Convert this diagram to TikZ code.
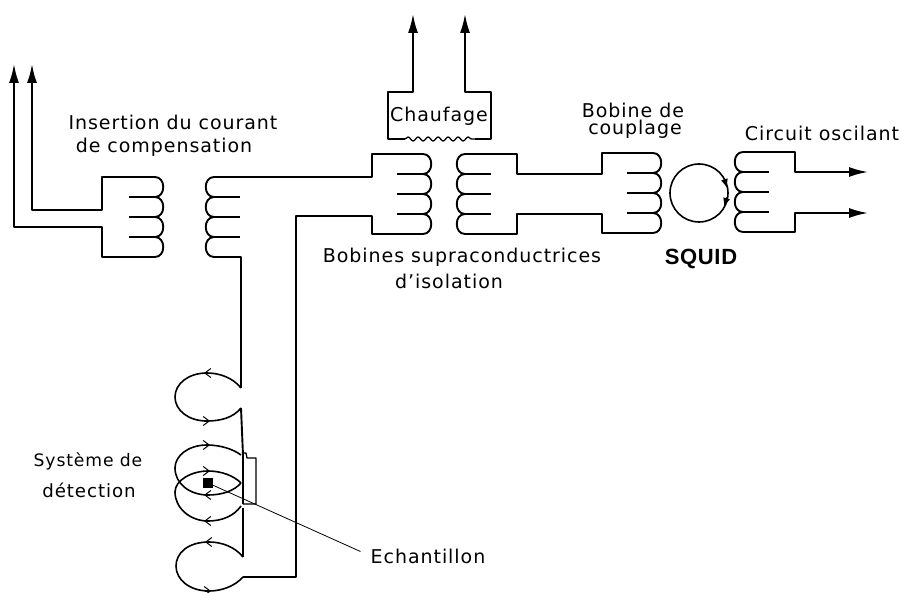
\documentclass[tikz,border=0pt]{standalone}
\usepackage{fontspec}
\setmainfont[LetterSpace=5]{DejaVu Sans}
\newfontfamily\grasfont[LetterSpace=3]{Liberation Sans}
\usetikzlibrary{positioning,calc,decorations.pathmorphing,arrows.meta}
\tikzset{
  fil/.style={line width=1.9pt,line join=round},
  boucle/.style={line width=1.6pt},
  fleche/.style={fil,-{Latex[length=19pt,width=10pt]}},
  petite/.style={line width=1pt,-{Straight Barb[length=6pt,width=9pt]}},
  etiquette/.style={font=\fontsize{19}{20}\selectfont,inner sep=0pt},
  bobine/.pic={
    \coordinate (-top) at (0,0);
    \coordinate (-bottom) at (0,80);
    \foreach \i in {0,...,3} {
      \draw[fil] (0,20*\i) .. controls (11,20*\i) and (11,20*\i+20) .. (0,20*\i+20);
    }
    \foreach \i in {1,...,3} {
      \draw[fil] (0,20*\i) -- (-26,20*\i);
    }
  }
}
\begin{document}
\begin{tikzpicture}[x=1pt,y=-1pt]
  \useasboundingbox (0,0) rectangle (907,593);
  % Coils
  \pic (c1) at (155,177) {bobine};
  \pic[xscale=-1] (c2) at (214,177) {bobine};
  \pic (c3) at (423,154) {bobine};
  \pic[xscale=-1] (c4) at (465,154) {bobine};
  \pic (c5) at (653,153) {bobine};
  \pic[xscale=-1] (c6) at (743,152) {bobine};

  % Free ends
  \coordinate (sortie1) at (14,64);
  \coordinate (sortie2) at (32,64);
  \coordinate (sortie3) at (413,14);
  \coordinate (sortie4) at (465,14);
  \coordinate (sortie5) at (868,172);
  \coordinate (sortie6) at (868,213);

  % Compensation leads
  \draw[fleche] (c1-bottom) -| (102,227) -| (sortie1);
  \draw[fleche] (c1-top) -| (102,210) -| (sortie2);

  % Isolation coils and coupling coil
  \draw[fil] (c2-top) -| (372,154) -- (c3-top);
  \draw[fil] (c3-bottom) -| (372,216) -| (296,577) -- (243,577);
  \draw[fil] (c4-top) -| (517,174) -| (602,153) -- (c5-top);
  \draw[fil] (c4-bottom) -| (517,214) -| (602,233) -- (c5-bottom);

  % Oscillating circuit
  \draw[fleche] (c6-top) -| (795,172) -- (sortie5);
  \draw[fleche] (c6-bottom) -| (795,213) -- (sortie6);

  % Heater
  \coordinate (r1) at (405,139);
  \coordinate (r2) at (475,139);
  \draw[fleche] (r1) -- (388,139) |- (413,92) -- (sortie3);
  \draw[fleche] (r2) -- (491,139) |- (465,92) -- (sortie4);
  \draw[line width=1.3pt,decorate,decoration={snake,amplitude=2pt,segment length=10pt}] (r1) -- (r2);

  % SQUID loop
  \node[circle,draw,line width=1.6pt,minimum size=58pt,inner sep=0pt] (squid) at (699,193) {};
  \draw[petite,-{Latex[length=9pt,width=7pt]}] (724,178) -- (727,188);
  \draw[petite,-{Latex[length=9pt,width=7pt]}] (727,197) -- (724,207);

  % Detection loops
  \draw[fil] (c2-bottom) -- (241,257) -- (241,388);
  \draw[boucle] (241,388) .. controls (233,378) and (220,373) .. (207,373)
    .. controls (188,373) and (175,384) .. (175,397)
    .. controls (175,410) and (188,421) .. (207,421)
    .. controls (220,421) and (233,418) .. (241,408);
  \draw[fil] (241,408) -- (243,455) -- (243,504);
  \draw[boucle] (241,455) .. controls (233,449) and (220,445) .. (207,445)
    .. controls (188,445) and (175,456) .. (175,468)
    .. controls (175,484) and (190,495) .. (208,495)
    .. controls (222,495) and (234,491) .. (241,483);
  \draw[boucle] (241,483) .. controls (234,476) and (222,471) .. (208,471)
    .. controls (192,471) and (175,480) .. (175,492)
    .. controls (175,508) and (190,521) .. (208,521)
    .. controls (222,521) and (234,516) .. (241,506);
  \draw[line width=1.3pt,line join=round] (242,453) -- (246,453) -- (247,458) -- (256,458) -- (256,504) -- (243,504);
  \draw[fil] (243,508) -- (243,557);
  \draw[boucle] (243,557) .. controls (235,547) and (222,542) .. (209,542)
    .. controls (188,542) and (176,553) .. (176,566)
    .. controls (176,580) and (190,591) .. (209,591)
    .. controls (222,591) and (235,586) .. (243,577);
  \foreach \xa/\ya/\xb in {210/373/204,204/421/210,204/445/210,204/471/210,210/495/204,210/521/204,211/542/205,205/591/211} {
    \draw[petite] (\xa,\ya) -- (\xb,\ya);
  }

  % Sample
  \node[fill=black,minimum size=10pt,inner sep=0pt] (carre) at (208,483) {};

  % Labels
  \node[etiquette] (insertion) at (173,122) {Insertion du courant};
  \node[etiquette] (compensation) at (164,147) {de compensation};
  \node[etiquette] (chaufage) at (439,116) {Chaufage};
  \node[etiquette] (isolation1) at (462,257) {Bobines supraconductrices};
  \node[etiquette] (isolation2) at (449,281) {d'isolation};
  \node[etiquette] (couplage1) at (633,110) {Bobine de};
  \node[etiquette] (couplage2) at (635,129) {couplage};
  \node[etiquette] (oscilant) at (822,133) {Circuit oscilant};
  \node[etiquette,font=\fontsize{22}{24}\selectfont\grasfont\bfseries] (nomsquid) at (701,259) {SQUID};
  \node[etiquette,font=\fontsize{17.2}{20}\selectfont] (systeme) at (88,461) {Système de};
  \node[etiquette,font=\fontsize{18.2}{20}\selectfont] (detection) at (89,490) {détection};
  \node[etiquette] (echantillon) at (428,556) {Echantillon};
  \draw[line width=0.8pt,shorten >=11pt] (carre.center) -- (echantillon.west);
\end{tikzpicture}
\end{document}
